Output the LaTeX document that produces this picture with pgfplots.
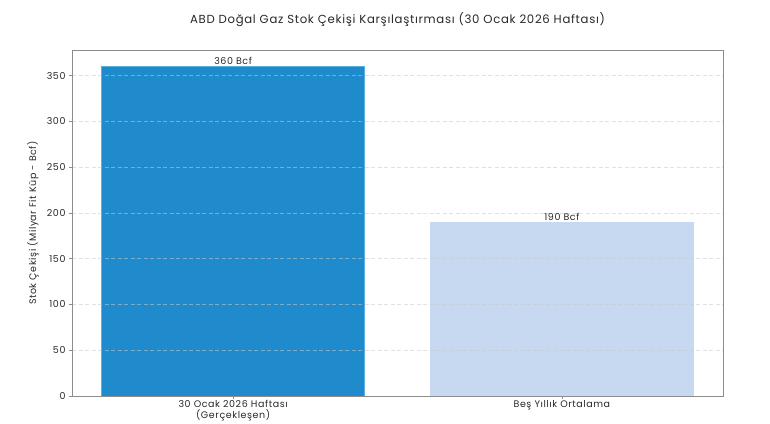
\documentclass[border=0pt]{standalone}
\usepackage{fontspec}
\setmainfont{Poppins}[LetterSpace=6]
\usepackage{pgfplots}
\pgfplotsset{compat=1.18}
\definecolor{barA}{RGB}{31,138,204}
\definecolor{barAedge}{RGB}{90,175,225}
\definecolor{barB}{RGB}{198,217,240}
\definecolor{spine}{RGB}{140,140,140}
\definecolor{gridc}{RGB}{200,200,200}
\definecolor{txt}{RGB}{40,40,40}
\begin{document}
\begin{tikzpicture}
\useasboundingbox (-72pt,-27pt) rectangle (698pt,396pt);
\begin{axis}[
  at={(0,0)}, anchor=south west,
  scale only axis, width=651pt, height=346pt,
  xmin=-0.49, xmax=1.49, ymin=0, ymax=378,
  xtick={0,1},
  xticklabels={{30 Ocak 2026 Haftası\\(Gerçekleşen)}, {Beş Yıllık Ortalama}},
  xticklabel style={align=center, font=\fontsize{9.5}{10.5}\selectfont, text=txt, inner sep=1.5pt},
  ytick={0,50,100,150,200,250,300,350},
  yticklabel style={font=\fontsize{9.5}{10}\selectfont, text=txt},
  /pgf/number format/assume math mode=true,
  tick style={spine, thin},
  tick align=outside, major tick length=3pt,
  xtick pos=bottom, ytick pos=left,
  axis line style={spine, line width=0.8pt},
  ymajorgrids, grid style={dash pattern=on 4pt off 2.5pt, gridc, opacity=0.55, line width=0.7pt},
  axis on top,
  ybar, bar width=263pt, bar shift=0pt,
  nodes near coords={\pgfmathprintnumber{\pgfplotspointmeta} Bcf},
  nodes near coords style={font=\fontsize{9.5}{10}\selectfont, text=txt, yshift=-2pt},
]
\addplot[fill=barA, draw=barAedge, line width=1pt] coordinates {(0,360)};
\addplot[fill=barB, draw=barB, line width=1pt] coordinates {(1,190)};
\end{axis}
\node[rotate=90, font=\fontsize{9.5}{10}\selectfont, text=txt] at (-39pt,173pt) {Stok Çekişi (Milyar Fit Küp - Bcf)};
\node[font=\fontsize{11.7}{13}\selectfont, text=txt] at (325.5pt,376pt) {ABD Doğal Gaz Stok Çekişi Karşılaştırması (30 Ocak 2026 Haftası)};
\end{tikzpicture}
\end{document}
